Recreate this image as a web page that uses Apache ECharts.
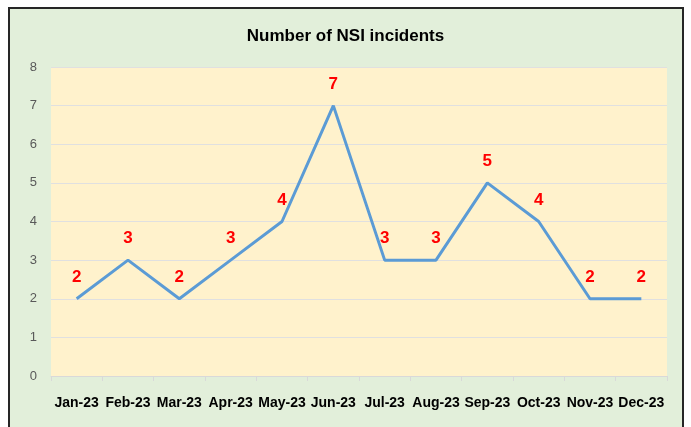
<!DOCTYPE html>
<html>
<head>
<meta charset="utf-8">
<script src="https://cdn.jsdelivr.net/npm/echarts@6/dist/echarts.min.js"></script>
<style>
  html, body { margin: 0; padding: 0; background: #fff; }
  #chart { width: 691px; height: 427px; }
</style>
</head>
<body>
<div id="chart"></div>
<script>
const months = ['Jan-23', 'Feb-23', 'Mar-23', 'Apr-23', 'May-23', 'Jun-23',
                'Jul-23', 'Aug-23', 'Sep-23', 'Oct-23', 'Nov-23', 'Dec-23'];
const incidents = [2, 3, 2, 3, 4, 7, 3, 3, 5, 4, 2, 2];

const font = '"Liberation Sans Narrow", "Liberation Sans", Arial, sans-serif';

const chart = echarts.init(document.getElementById('chart'));
chart.setOption({
    backgroundColor: '#ffffff',
    animation: false,
    graphic: [{
        type: 'rect',
        z: -10,
        shape: { x: 9, y: 8, width: 674, height: 432 },
        style: { fill: '#e2efda', stroke: '#262626', lineWidth: 2 }
    }],
    title: {
        text: 'Number of NSI incidents',
        left: 'center',
        top: 23,
        textStyle: {
            color: '#000',
            fontSize: 17,
            fontWeight: 'bold',
            fontFamily: font
        }
    },
    grid: {
        left: 51,
        right: 24,
        top: 67,
        bottom: 51,
        show: true,
        backgroundColor: '#fff2cc',
        borderWidth: 0
    },
    xAxis: {
        type: 'category',
        data: months,
        boundaryGap: true,
        axisLine: { lineStyle: { color: '#d9d9d9', width: 1 } },
        axisTick: { show: true, length: 5, lineStyle: { color: '#d9d9d9' } },
        axisLabel: {
            color: '#000',
            fontSize: 14,
            fontWeight: 'bold',
            fontFamily: font,
            margin: 20,
            interval: 0
        }
    },
    yAxis: {
        type: 'value',
        min: 0,
        max: 8,
        interval: 1,
        axisLine: { show: false },
        axisTick: { show: false },
        splitLine: { lineStyle: { color: '#e0e0e0', width: 1 } },
        axisLabel: {
            color: '#595959',
            fontSize: 13,
            fontFamily: font,
            margin: 14
        }
    },
    series: [{
        name: 'Incidents',
        type: 'line',
        data: incidents,
        symbol: 'circle',
        symbolSize: 0,
        showSymbol: true,
        itemStyle: { color: '#5b9bd5' },
        lineStyle: { color: '#5b9bd5', width: 3 },
        label: {
            show: true,
            position: 'top',
            distance: 13,
            color: '#ff0000',
            fontSize: 17,
            fontWeight: 'bold',
            fontFamily: font
        }
    }]
});
</script>
</body>
</html>
